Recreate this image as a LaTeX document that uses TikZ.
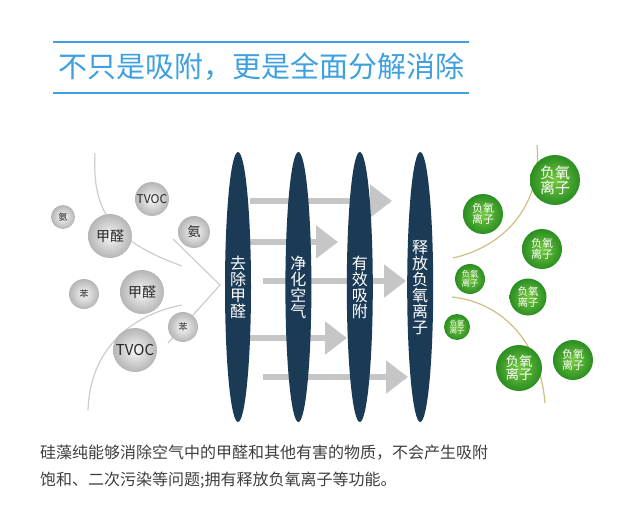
\documentclass[tikz,border=0pt]{standalone}
\usepackage{fontspec}
\setmainfont{Noto Sans CJK SC}
\usepackage{tikz}
\usetikzlibrary{positioning}
\usetikzlibrary{arrows.meta}
\usetikzlibrary{shapes.geometric}
\definecolor{titleblue}{RGB}{62,160,222}
\definecolor{darknavy}{RGB}{26,58,86}
\definecolor{arrowgray}{RGB}{198,198,198}
\definecolor{linegray}{RGB}{205,205,205}
\definecolor{goldline}{RGB}{208,190,128}
\definecolor{ioninner}{RGB}{118,200,64}
\definecolor{ionouter}{RGB}{42,142,34}
\definecolor{bodygray}{RGB}{62,62,62}
\newcommand{\sizedfont}[1]{\fontsize{#1}{#1}\selectfont}
\tikzset{
title_rule/.style={titleblue, line width=2pt},
lens/.style={ellipse, fill=darknavy, minimum width=26pt, minimum height=270pt, inner sep=0pt, text=white, align=center, text width=16pt, font=\sizedfont{16}},
flow_arrow/.style={arrowgray, line width=6pt, -{Triangle[width=32pt,length=22pt]}},
gas_line/.style={linegray, line width=1.2pt},
ion_line/.style={goldline, line width=1.2pt},
gas_ball/.style={circle, inner color=gray!6, outer color=gray!58, text=black!85, minimum size=#1, inner sep=0pt},
ion_ball/.style={circle, inner color=ioninner, outer color=ionouter, text=white, minimum size=#1, inner sep=0pt, align=center},
body_text/.style={text=bodygray, font=\sizedfont{16}, align=left, inner sep=0pt}
}

\begin{document}
\begin{tikzpicture}[x=1pt, y=-1pt]
    \useasboundingbox (0,0) rectangle (640,511);

    % title
    \node[text=titleblue, font=\sizedfont{29}] (title) at (261,67) {不只是吸附，更是全面分解消除};
    \draw[title_rule] (53,42) -- (469,42);
    \draw[title_rule] (53,93) -- (469,93);

    % gray arrows behind the lenses
    \coordinate (a_1) at (250,201);  \coordinate (t_1) at (392,201);
    \coordinate (a_2) at (250,242);  \coordinate (t_2) at (338,242);
    \coordinate (a_3) at (263,281);  \coordinate (t_3) at (406,281);
    \coordinate (a_4) at (250,338);  \coordinate (t_4) at (347,338);
    \coordinate (a_5) at (263,377);  \coordinate (t_5) at (408,377);
    \foreach \i in {1,...,5}
        \draw[flow_arrow] (a_\i) -- (t_\i);

    % the four lenses
    \node[lens] (remove_lens) at (238,287) {去\\除\\甲\\醛};
    \node[lens] (clean_lens) [right=34pt of remove_lens] {净\\化\\空\\气};
    \node[lens] (absorb_lens) [right=35pt of clean_lens] {有\\效\\吸\\附};
    \node[lens] (release_lens) [right=34pt of absorb_lens] {释\\放\\负\\氧\\离\\子};

    % left side: pollutants
    \draw[gas_line] (95,153) .. controls (92,210) and (110,240) .. (182,266);
    \draw[gas_line] (182,305) .. controls (130,315) and (90,350) .. (88,410);
    \coordinate (chevron) at (220,285);
    \draw[gas_line] (173,239) -- (chevron) -- (168,343);

    \node[gas_ball=24pt, font=\sizedfont{9}] (nh3_small) at (63,217) {氨};
    \node[gas_ball=44pt, font=\sizedfont{14}] (hcho_top) at (110,236) {甲醛};
    \node[gas_ball=34pt, font=\sizedfont{12}] (tvoc_top) at (152,199) {TVOC};
    \node[gas_ball=32pt, font=\sizedfont{13}] (nh3_right) at (194,232) {氨};
    \node[gas_ball=30pt, font=\sizedfont{9}] (benzene_left) at (84,294) {苯};
    \node[gas_ball=44pt, font=\sizedfont{14}] (hcho_mid) at (142,292) {甲醛};
    \node[gas_ball=30pt, font=\sizedfont{9}] (benzene_right) at (183,327) {苯};
    \node[gas_ball=44pt, font=\sizedfont{15}] (tvoc_bottom) at (135,350) {TVOC};

    % right side: negative ions
    \draw[ion_line] (537,145) .. controls (542,200) and (510,245) .. (453,258);
    \draw[ion_line] (452,297) .. controls (500,302) and (540,340) .. (545,403);

    \node[ion_ball=50pt, font=\sizedfont{15}] (ion_1) at (555,180) {负氧\\离子};
    \node[ion_ball=40pt, font=\sizedfont{11}] (ion_2) at (483,214) {负氧\\离子};
    \node[ion_ball=40pt, font=\sizedfont{11}] (ion_3) at (542,249) {负氧\\离子};
    \node[ion_ball=30pt, font=\sizedfont{8.5}] (ion_4) at (470,279) {负氧\\离子};
    \node[ion_ball=37pt, font=\sizedfont{10.5}] (ion_5) at (528,297) {负氧\\离子};
    \node[ion_ball=26pt, font=\sizedfont{7.5}] (ion_6) at (457,327) {负氧\\离子};
    \node[ion_ball=46pt, font=\sizedfont{13.5}] (ion_7) at (519,368) {负氧\\离子};
    \node[ion_ball=40pt, font=\sizedfont{11}] (ion_8) at (573,360) {负氧\\离子};

    % caption
    \node[body_text, anchor=west] (body) at (40,466.5) {硅藻纯能够消除空气中的甲醛和其他有害的物质，不会产生吸附\\[11pt]饱和、二次污染等问题;拥有释放负氧离子等功能。};
\end{tikzpicture}
\end{document}
